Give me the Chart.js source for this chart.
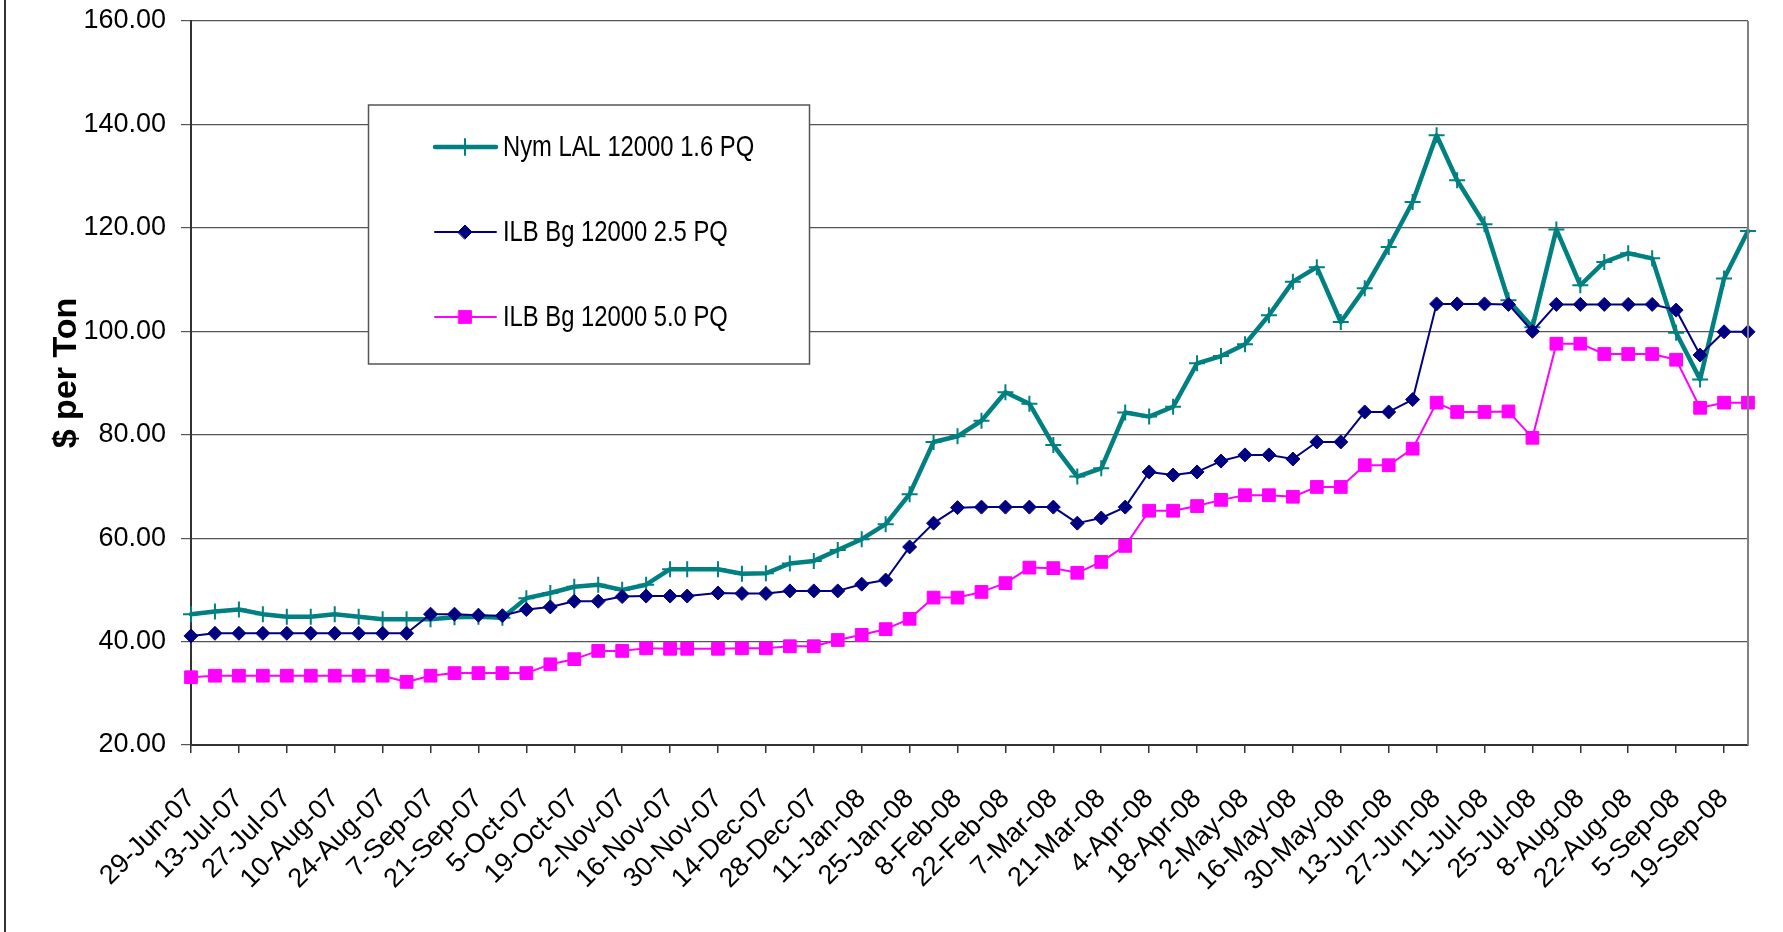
<!DOCTYPE html>
<html>
<head>
<meta charset="utf-8">
<script src="https://cdn.jsdelivr.net/npm/chart.js@4"></script>
<style>
  html, body { margin: 0; padding: 0; background: #fff; }
  #wrap { width: 1783px; height: 932px; }
</style>
</head>
<body>
<div id="wrap"><canvas id="chart" width="1783" height="932"></canvas></div>
<script>
// weekly quote dates (a few weeks are shifted around holidays)
const quoteDates = [
  "2007-06-29", "2007-07-06", "2007-07-13", "2007-07-20", "2007-07-27", "2007-08-03",
  "2007-08-10", "2007-08-17", "2007-08-24", "2007-08-31", "2007-09-07", "2007-09-14",
  "2007-09-21", "2007-09-28", "2007-10-05", "2007-10-12", "2007-10-19", "2007-10-26",
  "2007-11-02", "2007-11-09", "2007-11-16", "2007-11-21", "2007-11-30", "2007-12-07",
  "2007-12-14", "2007-12-21", "2007-12-28", "2008-01-04", "2008-01-11", "2008-01-18",
  "2008-01-25", "2008-02-01", "2008-02-08", "2008-02-15", "2008-02-22", "2008-02-29",
  "2008-03-07", "2008-03-14", "2008-03-21", "2008-03-28", "2008-04-04", "2008-04-11",
  "2008-04-18", "2008-04-25", "2008-05-02", "2008-05-09", "2008-05-16", "2008-05-23",
  "2008-05-30", "2008-06-06", "2008-06-13", "2008-06-20", "2008-06-27", "2008-07-03",
  "2008-07-11", "2008-07-18", "2008-07-25", "2008-08-01", "2008-08-08", "2008-08-15",
  "2008-08-22", "2008-08-29", "2008-09-05", "2008-09-12", "2008-09-19", "2008-09-26"
];

const nymLal16 = [
  45.3, 45.8, 46.2, 45.3, 44.8, 44.8, 45.3, 44.8, 44.3, 44.3, 44.3, 44.7,
  44.8, 44.6, 48.4, 49.4, 50.6, 51.0, 50.0, 51.0, 54.0, 54.0, 54.0, 53.1,
  53.2, 55.1, 55.6, 57.7, 59.8, 62.7, 68.5, 78.6, 79.7, 82.7, 88.2, 86.0,
  78.0, 71.9, 73.5, 84.3, 83.5, 85.4, 93.8, 95.2, 97.5, 103.1, 109.6, 112.4,
  101.8, 108.3, 116.3, 125.0, 137.9, 129.2, 120.7, 106.0, 100.8, 119.7, 108.9, 113.4,
  115.1, 114.1, 99.7, 90.7, 110.2, 119.4
];

const ilbBg25 = [
  41.1, 41.6, 41.6, 41.6, 41.6, 41.6, 41.6, 41.6, 41.6, 41.6, 45.3, 45.3,
  45.1, 45.0, 46.2, 46.7, 47.8, 47.8, 48.7, 48.8, 48.8, 48.8, 49.4, 49.3,
  49.3, 49.8, 49.8, 49.8, 51.1, 51.9, 58.3, 62.9, 65.9, 66.0, 66.0, 66.0,
  66.0, 62.9, 63.9, 66.0, 72.8, 72.2, 72.8, 74.9, 76.1, 76.1, 75.3, 78.6,
  78.6, 84.4, 84.4, 86.8, 105.3, 105.3, 105.3, 105.2, 100.0, 105.2, 105.2, 105.2,
  105.2, 105.2, 104.1, 95.4, 99.9, 99.9
];

const ilbBg50 = [
  33.1, 33.4, 33.4, 33.4, 33.4, 33.4, 33.4, 33.4, 33.4, 32.2, 33.4, 33.9,
  33.9, 33.9, 33.9, 35.6, 36.6, 38.2, 38.2, 38.7, 38.6, 38.6, 38.6, 38.7,
  38.7, 39.1, 39.1, 40.3, 41.3, 42.4, 44.4, 48.5, 48.5, 49.6, 51.3, 54.3,
  54.2, 53.3, 55.4, 58.5, 65.3, 65.3, 66.2, 67.4, 68.3, 68.3, 68.0, 69.9,
  69.9, 74.1, 74.1, 77.3, 86.2, 84.4, 84.4, 84.5, 79.4, 97.6, 97.6, 95.6,
  95.6, 95.6, 94.5, 85.2, 86.2, 86.2
];

const seriesNames = ["Nym LAL 12000 1.6 PQ", "ILB Bg 12000 2.5 PQ", "ILB Bg 12000 5.0 PQ"];
const yTitle = "$ per Ton";

const tickLabels = [
  "29-Jun-07", "13-Jul-07", "27-Jul-07", "10-Aug-07", "24-Aug-07", "7-Sep-07",
  "21-Sep-07", "5-Oct-07", "19-Oct-07", "2-Nov-07", "16-Nov-07", "30-Nov-07",
  "14-Dec-07", "28-Dec-07", "11-Jan-08", "25-Jan-08", "8-Feb-08", "22-Feb-08",
  "7-Mar-08", "21-Mar-08", "4-Apr-08", "18-Apr-08", "2-May-08", "16-May-08",
  "30-May-08", "13-Jun-08", "27-Jun-08", "11-Jul-08", "25-Jul-08", "8-Aug-08",
  "22-Aug-08", "5-Sep-08", "19-Sep-08"
];

const DAY = 86400000;
const day0 = Date.parse(quoteDates[0]);
const dayNum = quoteDates.map(d => (Date.parse(d) - day0) / DAY);
const toPoints = vals => vals.map((v, i) => ({ x: dayNum[i], y: v }));

const FONT = '"Liberation Sans", Arial, sans-serif';
Chart.defaults.font.family = FONT;
Chart.defaults.color = "#000";

// legend drawn as a boxed panel inside the plot, like the spreadsheet one
const boxLegend = {
  id: "boxLegend",
  afterDraw(chart) {
    const ctx = chart.ctx;
    const bx = 368.5, by = 105, bw = 441, bh = 259;
    ctx.save();
    ctx.fillStyle = "#fff";
    ctx.fillRect(bx, by, bw, bh);
    ctx.strokeStyle = "#555";
    ctx.lineWidth = 1.5;
    ctx.strokeRect(bx, by, bw, bh);
    chart.data.datasets.forEach((ds, i) => {
      const y = by + 42 + i * 85;
      ctx.strokeStyle = ds.borderColor;
      ctx.lineWidth = ds.borderWidth;
      ctx.lineCap = "round";
      ctx.beginPath();
      ctx.moveTo(435, y);
      ctx.lineTo(496, y);
      ctx.stroke();
      ctx.fillStyle = ds.pointBackgroundColor;
      ctx.strokeStyle = ds.pointBorderColor;
      ctx.lineWidth = ds.pointBorderWidth;
      Chart.helpers.drawPoint(ctx, {
        pointStyle: ds.pointStyle, radius: ds.pointRadius,
        borderWidth: ds.pointBorderWidth, rotation: 0
      }, 465, y);
      // narrow lettering, as in the original
      ctx.save();
      ctx.translate(503, y + 1);
      ctx.scale(0.82, 1);
      ctx.fillStyle = "#000";
      ctx.font = "29px " + FONT;
      ctx.textBaseline = "middle";
      ctx.textAlign = "left";
      ctx.fillText(ds.label, 0, 0);
      ctx.restore();
    });
    ctx.restore();
  }
};

const frameLines = {
  id: "frameLines",
  afterDraw(chart) {
    const { ctx, chartArea: a } = chart;
    ctx.save();
    ctx.strokeStyle = "#808080";
    ctx.lineWidth = 2;
    ctx.beginPath();
    ctx.moveTo(a.right, a.top);
    ctx.lineTo(a.right, a.bottom);
    ctx.stroke();
    ctx.strokeStyle = "#333";
    ctx.beginPath();
    ctx.moveTo(5, 0);
    ctx.lineTo(5, chart.height);
    ctx.stroke();
    // axis title, a bit above the plot centre like the source
    ctx.translate(67, (a.top + a.bottom) / 2 - 10);
    ctx.rotate(-Math.PI / 2);
    ctx.font = "bold 34px " + FONT;
    ctx.fillStyle = "#000";
    ctx.textAlign = "center";
    ctx.textBaseline = "middle";
    ctx.fillText(yTitle, 0, 0);
    ctx.restore();
  }
};

new Chart(document.getElementById("chart"), {
  type: "line",
  data: {
    datasets: [
      {
        label: seriesNames[0],
        data: toPoints(nymLal16),
        borderColor: "#008080",
        borderWidth: 4.5,
        pointStyle: "cross",
        pointRadius: 8,
        pointBorderWidth: 2,
        pointBorderColor: "#008080",
        pointBackgroundColor: "#008080",
        order: 3
      },
      {
        label: seriesNames[1],
        data: toPoints(ilbBg25),
        borderColor: "#000080",
        borderWidth: 2,
        pointStyle: "rectRot",
        pointRadius: 7,
        pointBorderWidth: 1,
        pointBorderColor: "#000080",
        pointBackgroundColor: "#000080",
        order: 2
      },
      {
        label: seriesNames[2],
        data: toPoints(ilbBg50),
        borderColor: "#FF00FF",
        borderWidth: 2,
        pointStyle: "rect",
        pointRadius: 9,
        pointBorderWidth: 1,
        pointBorderColor: "#FF00FF",
        pointBackgroundColor: "#FF00FF",
        order: 1
      }
    ]
  },
  options: {
    responsive: false,
    animation: false,
    events: [],
    layout: { padding: { top: 21, right: 35, bottom: 0, left: 0 } },
    elements: {
      line: { tension: 0, borderJoinStyle: "round", borderCapStyle: "round" },
      point: { hoverRadius: 0 }
    },
    datasets: { line: { clip: false } },
    plugins: {
      legend: { display: false },
      tooltip: { enabled: false }
    },
    scales: {
      x: {
        type: "linear",
        min: 0,
        max: dayNum[dayNum.length - 1],
        afterFit: s => { s.height = 187; },
        grid: { drawOnChartArea: false, color: "#333", tickLength: 8, lineWidth: 1.5 },
        border: { color: "#333", width: 2 },
        ticks: {
          stepSize: 14,
          includeBounds: false,
          autoSkip: false,
          minRotation: 45,
          maxRotation: 45,
          padding: 30,
          font: { size: 27 },
          callback: (v, i) => tickLabels[i]
        }
      },
      y: {
        min: 20,
        max: 160,
        afterFit: s => {
          s.width = 191;
          s.paddingTop = 0;
          s.paddingBottom = 0;
        },
        grid: { color: "#555", lineWidth: 1.2, tickLength: 10 },
        border: { color: "#333", width: 2 },
        ticks: {
          stepSize: 20,
          padding: 15,
          font: { size: 27 },
          callback: v => v.toFixed(2)
        }
      }
    }
  },
  plugins: [frameLines, boxLegend]
});
</script>
</body>
</html>
